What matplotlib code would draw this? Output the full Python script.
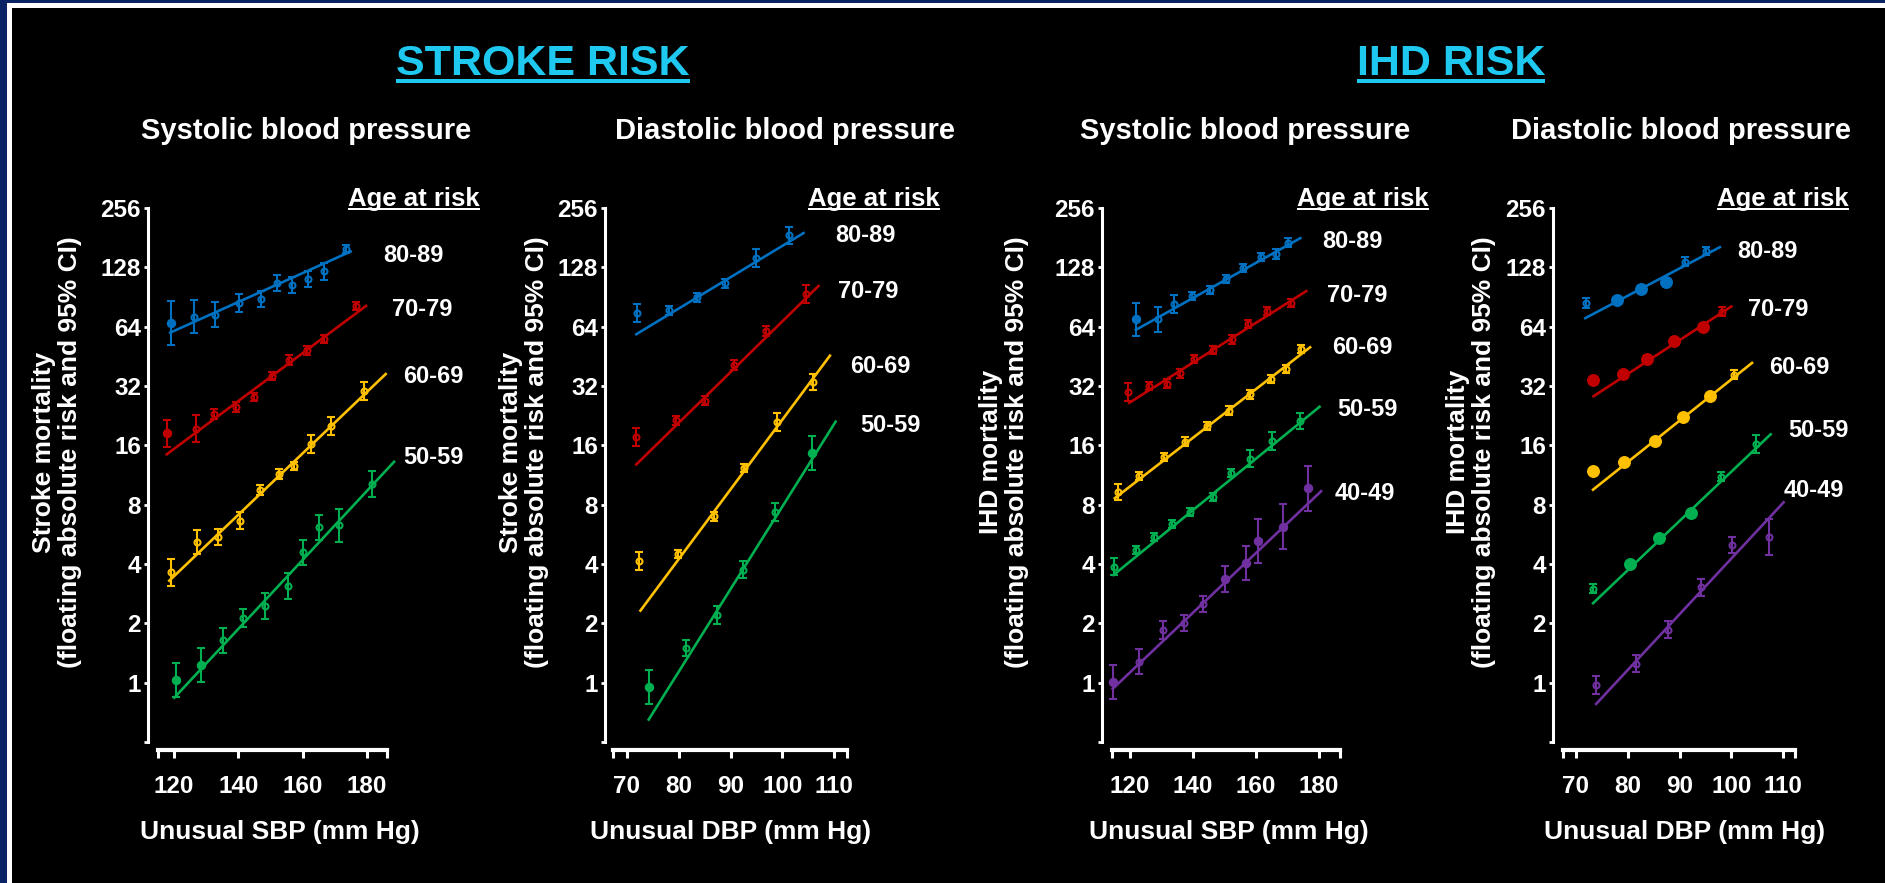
import matplotlib
matplotlib.use("Agg")
import numpy as np
import matplotlib.pyplot as plt
from matplotlib.lines import Line2D
from matplotlib.patches import Rectangle
from matplotlib.transforms import IdentityTransform

plt.rcParams['font.family'] = ['Liberation Sans', 'DejaVu Sans']
plt.rcParams['font.weight'] = 'bold'

# ---------------- data ----------------
ages_stroke = ['80-89', '70-79', '60-69', '50-59']
ages_ihd = ['80-89', '70-79', '60-69', '50-59', '40-49']
y_ticks = [0.5, 1, 2, 4, 8, 16, 32, 64, 128, 256]
sbp_ticks = [120, 140, 160, 180]
dbp_ticks = [70, 80, 90, 100, 110]

# stroke, systolic
stroke_sbp_x = [
    [119.1, 126.3, 132.8, 140.3, 147.1, 152.0, 156.7, 161.5, 166.6, 173.4],
    [117.9, 126.9, 132.3, 139.2, 144.9, 150.3, 155.8, 161.2, 166.6, 176.6],
    [118.9, 127.2, 133.7, 140.6, 146.7, 152.5, 157.3, 162.6, 168.7, 178.9],
    [120.6, 128.4, 135.2, 141.5, 148.2, 155.3, 160.1, 165.2, 171.3, 181.6],
]
stroke_sbp_y = [
    [66.7, 72.0, 73.6, 84.6, 88.5, 106.7, 104.4, 111.6, 122.0, 158.5],
    [18.4, 19.4, 23.1, 25.0, 28.2, 36.0, 43.6, 48.5, 55.5, 81.2],
    [3.63, 5.2, 5.48, 6.64, 9.46, 11.4, 12.55, 16.3, 20.1, 30.1],
    [1.03, 1.23, 1.64, 2.12, 2.45, 3.10, 4.58, 6.14, 6.28, 10.2],
]
stroke_sbp_ci = [
    [1.29, 1.21, 1.16, 1.11, 1.10, 1.10, 1.10, 1.10, 1.10, 1.05],
    [1.17, 1.17, 1.06, 1.06, 1.05, 1.05, 1.06, 1.05, 1.05, 1.05],
    [1.17, 1.15, 1.10, 1.10, 1.06, 1.06, 1.05, 1.11, 1.11, 1.11],
    [1.22, 1.22, 1.16, 1.11, 1.16, 1.16, 1.16, 1.16, 1.21, 1.16],
]
stroke_sbp_fit_x = [[118.8, 174.9], [117.7, 179.7], [118.5, 185.8], [120.1, 188.4]]
stroke_sbp_fit_y = [[59.7, 154.0], [14.4, 81.6], [3.29, 36.8], [0.84, 13.2]]

# stroke, diastolic
stroke_dbp_x = [
    [72.0, 78.1, 83.6, 89.0, 95.0, 101.2],
    [71.8, 79.4, 85.1, 90.6, 96.9, 104.5],
    [72.3, 79.9, 86.9, 92.6, 99.0, 105.9],
    [74.2, 81.4, 87.4, 92.4, 98.6, 105.7],
]
stroke_dbp_y = [
    [74.7, 77.4, 90.1, 106.0, 143.0, 186.0],
    [17.6, 21.4, 27.0, 40.8, 60.5, 93.8],
    [4.14, 4.49, 6.97, 12.3, 21.0, 33.4],
    [0.95, 1.50, 2.21, 3.75, 7.36, 14.7],
]
stroke_dbp_ci = [
    [1.11, 1.05, 1.05, 1.05, 1.11, 1.10],
    [1.11, 1.05, 1.05, 1.06, 1.06, 1.11],
    [1.11, 1.05, 1.05, 1.05, 1.11, 1.10],
    [1.22, 1.10, 1.11, 1.11, 1.11, 1.22],
]
stroke_dbp_fit_x = [[71.8, 104.1], [71.8, 107.0], [72.6, 109.2], [74.2, 110.3]]
stroke_dbp_fit_y = [[58.6, 191.0], [12.8, 103.0], [2.32, 45.6], [0.65, 21.1]]

# IHD, systolic
ihd_sbp_x = [
    [121.9, 128.8, 134.0, 139.7, 145.4, 150.6, 156.0, 161.5, 166.3, 170.3],
    [119.5, 125.9, 131.7, 135.8, 140.4, 146.5, 152.5, 157.6, 163.4, 171.2],
    [116.3, 123.0, 130.9, 137.6, 144.4, 151.3, 158.0, 164.7, 169.5, 174.4],
    [114.8, 121.9, 127.7, 133.4, 139.1, 146.4, 152.2, 158.0, 165.2, 174.1],
    [114.5, 122.8, 130.6, 137.3, 143.3, 150.1, 156.9, 160.8, 168.6, 176.5],
]
ihd_sbp_y = [
    [69.6, 69.6, 83.3, 91.9, 98.3, 112.0, 127.4, 144.0, 149.0, 171.0],
    [29.9, 32.0, 32.9, 37.1, 44.0, 48.6, 55.1, 65.9, 76.8, 84.4],
    [9.31, 11.2, 13.95, 16.7, 20.1, 24.0, 29.0, 34.7, 39.1, 49.2],
    [3.88, 4.71, 5.50, 6.38, 7.37, 8.74, 11.55, 13.7, 16.8, 21.2],
    [1.01, 1.28, 1.85, 2.0, 2.51, 3.36, 4.06, 5.24, 6.19, 9.7],
]
ihd_sbp_ci = [
    [1.21, 1.16, 1.11, 1.05, 1.05, 1.05, 1.05, 1.05, 1.06, 1.05],
    [1.11, 1.05, 1.05, 1.05, 1.05, 1.05, 1.05, 1.05, 1.05, 1.05],
    [1.10, 1.05, 1.05, 1.05, 1.05, 1.05, 1.05, 1.05, 1.05, 1.05],
    [1.10, 1.05, 1.05, 1.05, 1.05, 1.05, 1.05, 1.10, 1.11, 1.10],
    [1.22, 1.16, 1.11, 1.10, 1.10, 1.16, 1.22, 1.29, 1.30, 1.30],
]
ihd_sbp_fit_x = [[121.9, 174.1], [119.8, 176.0], [115.2, 177.2], [114.8, 180.2], [114.5, 180.7]]
ihd_sbp_fit_y = [[61.7, 180.0], [26.3, 97.0], [8.63, 50.3], [3.52, 25.1], [0.93, 9.36]]

# IHD, diastolic
ihd_dbp_x = [
    [71.9, 78.0, 82.5, 87.3, 91.0, 95.1],
    [73.3, 79.0, 83.8, 89.0, 94.5, 98.2],
    [73.3, 79.3, 85.3, 90.7, 95.9, 100.5],
    [73.2, 80.4, 86.0, 92.2, 98.1, 104.8],
    [73.9, 81.6, 87.8, 94.1, 100.2, 107.2],
]
ihd_dbp_y = [
    [84.6, 87.7, 99.1, 108.4, 136.9, 155.0],
    [34.3, 36.8, 44.0, 54.1, 63.9, 76.4],
    [11.8, 13.2, 16.9, 22.4, 28.5, 36.6],
    [3.0, 4.01, 5.39, 7.29, 11.1, 16.3],
    [0.97, 1.25, 1.86, 3.04, 4.98, 5.49],
]
ihd_dbp_ci = [
    [1.06, 1.02, 1.02, 1.02, 1.05, 1.05],
    [1.02, 1.02, 1.02, 1.02, 1.02, 1.05],
    [1.02, 1.02, 1.02, 1.02, 1.02, 1.05],
    [1.05, 1.02, 1.02, 1.02, 1.05, 1.11],
    [1.11, 1.11, 1.11, 1.11, 1.10, 1.23],
]
ihd_dbp_fit_x = [[71.8, 97.8], [73.4, 100.0], [73.3, 104.0], [73.3, 107.6], [73.9, 110.1]]
ihd_dbp_fit_y = [[70.7, 162.0], [28.4, 81.0], [9.53, 41.9], [2.53, 18.2], [0.78, 8.22]]

# ---------------- style / layout ----------------
W, H = 1885, 883
colors = ['#0070c0', '#c00000', '#ffc000', '#00b050', '#7030a0']
cyan = '#1fc8ef'

# which markers are drawn solid (small) or as large dots
stroke_sbp_solid = [[0], [0], [], [0, 1]]
stroke_dbp_solid = [[], [], [], [0, 5]]
ihd_sbp_solid = [[0], [], [], [], [0, 5, 6, 7, 8, 9]]
ihd_dbp_solid = [[], [], [], [], []]
ihd_dbp_big = [[1, 2, 3], [0, 1, 2, 3, 4], [0, 1, 2, 3, 4], [1, 2, 3], []]
no_big = [[], [], [], [], []]


def fx(px):
    return px / W


def fy(py):
    return 1 - py / H


panels = [
    dict(x=stroke_sbp_x, y=stroke_sbp_y, ci=stroke_sbp_ci, fx=stroke_sbp_fit_x, fy=stroke_sbp_fit_y,
         ages=ages_stroke, solid=stroke_sbp_solid, big=no_big, xt=sbp_ticks, xlim=(115.0, 186.2),
         px=(158, 387), yoff=10, title='Systolic blood pressure', tx=306,
         ylab='Stroke mortality', ylx=57, xlab='Unusual SBP (mm Hg)', xlx=280, ar=348,
         agex=[383, 392, 403, 403], agey=[255, 310, 376, 457]),
    dict(x=stroke_dbp_x, y=stroke_dbp_y, ci=stroke_dbp_ci, fx=stroke_dbp_fit_x, fy=stroke_dbp_fit_y,
         ages=ages_stroke, solid=stroke_dbp_solid, big=no_big, xt=dbp_ticks, xlim=(67.3, 112.5),
         px=(613, 847), yoff=8, title='Diastolic blood pressure', tx=785,
         ylab='Stroke mortality', ylx=524, xlab='Unusual DBP (mm Hg)', xlx=731, ar=808,
         agex=[835, 838, 850, 860], agey=[236, 292, 366, 425]),
    dict(x=ihd_sbp_x, y=ihd_sbp_y, ci=ihd_sbp_ci, fx=ihd_sbp_fit_x, fy=ihd_sbp_fit_y,
         ages=ages_ihd, solid=ihd_sbp_solid, big=no_big, xt=sbp_ticks, xlim=(114.3, 186.7),
         px=(1112, 1340), yoff=10, title='Systolic blood pressure', tx=1245,
         ylab='IHD mortality', ylx=1004, xlab='Unusual SBP (mm Hg)', xlx=1229, ar=1297,
         agex=[1322, 1327, 1332, 1337, 1335], agey=[241, 296, 348, 410, 493]),
    dict(x=ihd_dbp_x, y=ihd_dbp_y, ci=ihd_dbp_ci, fx=ihd_dbp_fit_x, fy=ihd_dbp_fit_y,
         ages=ages_ihd, solid=ihd_dbp_solid, big=ihd_dbp_big, xt=dbp_ticks, xlim=(67.5, 112.3),
         px=(1563, 1795), yoff=10, title='Diastolic blood pressure', tx=1681,
         ylab='IHD mortality', ylx=1471, xlab='Unusual DBP (mm Hg)', xlx=1685, ar=1717,
         agex=[1737, 1748, 1769, 1788, 1784], agey=[252, 310, 367, 430, 491]),
]

fig = plt.figure(figsize=(W / 100, H / 100), dpi=100)
fig.patch.set_facecolor('#0a2364')
fig.add_artist(Rectangle((fx(6.7), 0), 1, fy(3.3), transform=fig.transFigure,
                         facecolor='white', edgecolor='none', zorder=-20))
fig.add_artist(Rectangle((fx(11.7), 0), 1, fy(8.3), transform=fig.transFigure,
                         facecolor='black', edgecolor='none', zorder=-19))

top_px, bot_px = 208, 742
underlines = []

for p in panels:
    x0, x1 = p['px']
    ax = fig.add_axes([fx(x0), fy(bot_px), (x1 - x0) / W, (bot_px - top_px) / H])
    ax.patch.set_visible(False)
    ax.set_yscale('log', base=2)
    ax.set_ylim(0.5, 256)
    ax.set_xlim(*p['xlim'])

    for i, age in enumerate(p['ages']):
        c = colors[i]
        xs = np.array(p['x'][i])
        ys = np.array(p['y'][i])
        ci = np.array(p['ci'][i])
        ax.plot(p['fx'][i], p['fy'][i], color=c, lw=1.9, clip_on=False, zorder=2)
        ax.errorbar(xs, ys, yerr=[ys - ys / ci, ys * ci - ys], fmt='none', ecolor=c,
                    elinewidth=1.5, capsize=3, capthick=1.5, zorder=3, clip_on=False)
        solid = p['solid'][i]
        big = p['big'][i]
        rest = [k for k in range(len(xs)) if k not in solid and k not in big]
        ax.plot(xs[rest], ys[rest], 'o', ms=4.3, mfc='none', mec=c, mew=1.5, zorder=4, clip_on=False)
        if solid:
            ax.plot(xs[solid], ys[solid], 'o', ms=5.8, mfc=c, mec=c, zorder=4, clip_on=False)
        if big:
            ax.plot(xs[big], ys[big], 'o', ms=8.3, mfc=c, mec=c, zorder=4, clip_on=False)
        fig.text(fx(p['agex'][i]), fy(p['agey'][i]), age, color='white', fontsize=17,
                 ha='left', va='center')

    for s in ['top', 'right']:
        ax.spines[s].set_visible(False)
    ax.spines['left'].set_position(('outward', p['yoff'] * 0.72))
    ax.spines['bottom'].set_position(('outward', 6))
    ax.spines['left'].set_color('white')
    ax.spines['bottom'].set_color('white')
    ax.spines['left'].set_linewidth(2.2)
    ax.spines['bottom'].set_linewidth(3.0)

    ax.set_yticks(y_ticks, ['' if v < 1 else str(v) for v in y_ticks])
    ax.yaxis.set_minor_locator(matplotlib.ticker.NullLocator())
    ax.set_xticks(p['xt'], [str(v) for v in p['xt']])
    ax.set_xticks(list(p['xlim']), minor=True)
    ax.tick_params(axis='y', colors='white', labelsize=17.5, length=3, width=2, pad=2)
    ax.tick_params(axis='x', which='both', colors='white', labelsize=17.5, length=6, width=2.2, pad=12)

    fig.text(fx(p['tx']), fy(131), p['title'], color='white', fontsize=21, ha='center', va='center')
    fig.text(fx(p['ylx']), fy(452), p['ylab'] + '\n(floating absolute risk and 95% CI)',
             color='white', fontsize=19, rotation=90, ha='center', va='center',
             multialignment='center', linespacing=1.15)
    fig.text(fx(p['xlx']), fy(832), p['xlab'], color='white', fontsize=19, ha='center', va='center')
    t = fig.text(fx(p['ar']), fy(206), 'Age at risk', color='white', fontsize=18.5, ha='left', va='baseline')
    underlines.append((t, 209, 2.0, 'white'))

h1 = fig.text(fx(543), fy(75), 'STROKE RISK', color=cyan, fontsize=31, ha='center', va='baseline')
h2 = fig.text(fx(1451), fy(75), 'IHD RISK', color=cyan, fontsize=31, ha='center', va='baseline')
underlines.append((h1, 81, 4.0, cyan))
underlines.append((h2, 81, 4.0, cyan))

fig.canvas.draw()
for t, py, lw_px, c in underlines:
    bb = t.get_window_extent()
    fig.add_artist(Line2D([bb.x0, bb.x1], [H - py, H - py], transform=IdentityTransform(),
                          color=c, lw=lw_px * 0.72, solid_capstyle='butt'))

fig.savefig('out.png', dpi=100, facecolor=fig.get_facecolor())
